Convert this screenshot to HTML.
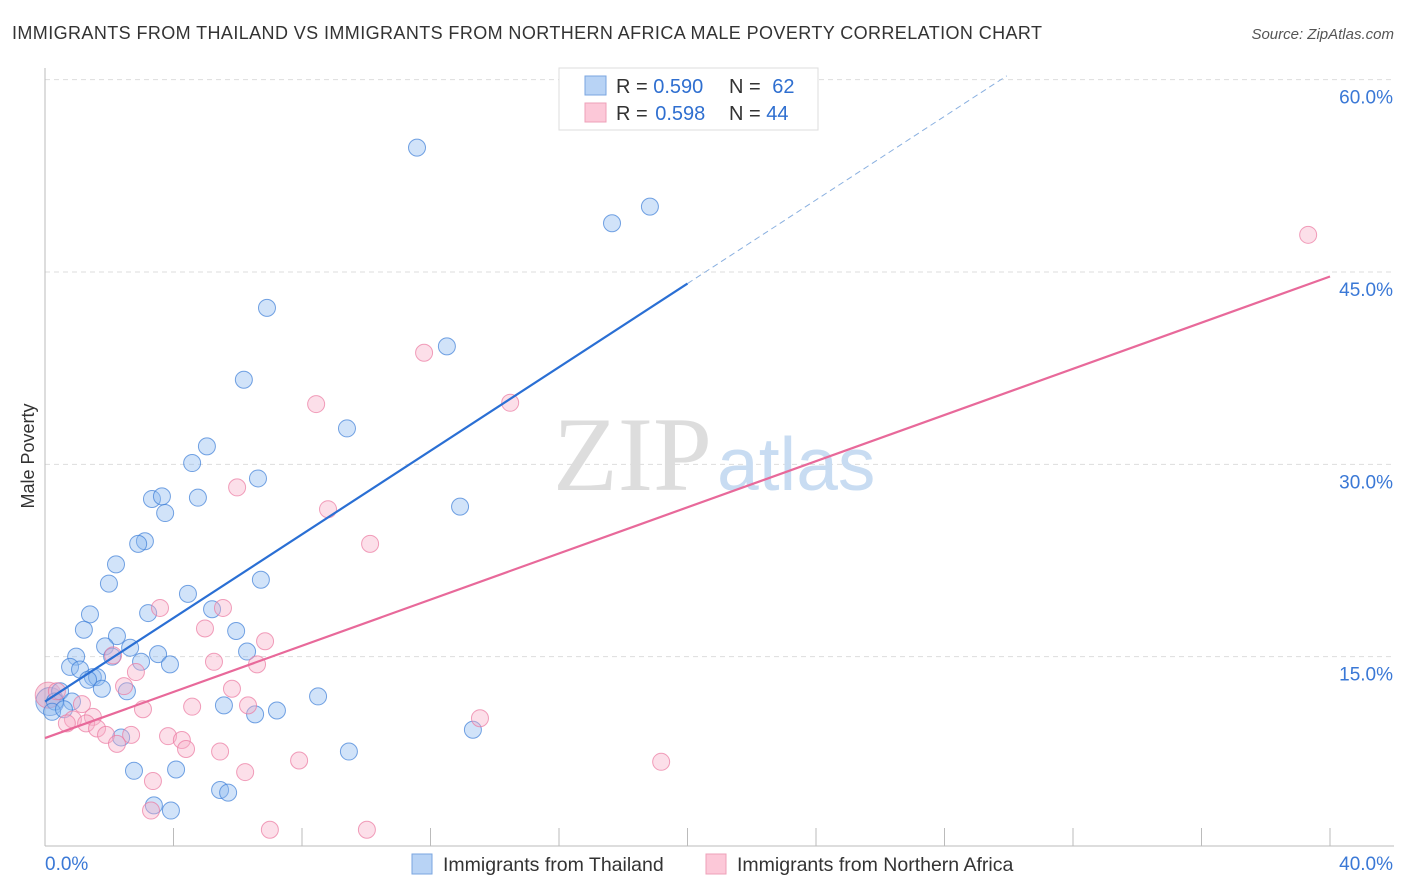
<!DOCTYPE html>
<html><head><meta charset="utf-8"><style>
body{margin:0;background:#fff;font-family:"Liberation Sans",sans-serif;}
svg{display:block}
</style></head><body>
<svg id="chart" width="1406" height="892">
<text x="12" y="39" font-size="18" fill="#333" textLength="1030">IMMIGRANTS FROM THAILAND VS IMMIGRANTS FROM NORTHERN AFRICA MALE POVERTY CORRELATION CHART</text>
<text x="1394" y="39" font-size="15" fill="#555" text-anchor="end" font-style="italic">Source: ZipAtlas.com</text>
<text x="34" y="456" font-size="18" fill="#333" text-anchor="middle" transform="rotate(-90 34 456)">Male Poverty</text>
<g id="grid"></g>
<text x="712" y="490" font-size="106" fill="#ddd" text-anchor="end" font-family="Liberation Serif,serif">ZIP</text>
<text x="717" y="490" font-size="75" fill="#c8dcf2">atlas</text>
<g id="pts"></g>
<g id="lines"></g>
<g>
<rect x="559" y="68" width="259" height="62" fill="#fff" stroke="#ddd"/>
<rect x="585" y="76" width="21" height="19" fill="#b8d3f5" stroke="#7aa6e0"/>
<rect x="585" y="103" width="21" height="19" fill="#fcc8d8" stroke="#eea0b8"/>
<text x="616" y="93" font-size="20" fill="#333">R = <tspan fill="#2f6fd0">0.590</tspan></text>
<text x="729" y="93" font-size="20" fill="#333">N = <tspan fill="#2f6fd0" dx="6">62</tspan></text>
<text x="616" y="120" font-size="20" fill="#333">R = <tspan fill="#2f6fd0" dx="2">0.598</tspan></text>
<text x="729" y="120" font-size="20" fill="#333">N = <tspan fill="#2f6fd0">44</tspan></text>
</g>
<g>
<rect x="412" y="854" width="20" height="20" fill="#b8d3f5" stroke="#7aa6e0"/>
<text x="443" y="871" font-size="19.5" fill="#333">Immigrants from Thailand</text>
<rect x="706" y="854" width="20" height="20" fill="#fcc8d8" stroke="#eea0b8"/>
<text x="737" y="871" font-size="19.5" fill="#333">Immigrants from Northern Africa</text>
</g>
</svg>
<script>
const xTicks=[0,40];
const yTicks=[15,30,45,60];
const blueX=[11.58,17.65,18.83,6.91,12.51,6.19,9.40,5.04,4.58,6.63,3.33,3.64,4.76,3.74,12.92,3.11,2.90,2.21,1.99,6.72,4.45,1.40,3.21,5.20,1.21,5.95,2.24,1.87,2.65,3.52,0.97,2.09,6.29,2.99,3.89,0.78,1.09,1.49,1.62,1.34,1.77,2.55,8.50,0.47,0.84,0.31,0.22,0.59,5.57,7.22,6.54,13.32,2.37,9.46,2.77,4.08,5.45,5.70,3.39,3.92];
const blueY=[54.7,48.8,50.1,42.2,39.2,36.6,32.8,31.4,30.1,28.9,27.3,27.5,27.4,26.2,26.7,24.0,23.8,22.2,20.7,21.0,19.9,18.3,18.4,18.7,17.1,17.0,16.6,15.8,15.7,15.2,15.0,15.0,15.4,14.6,14.4,14.2,14.0,13.4,13.4,13.2,12.5,12.3,11.9,12.3,11.5,11.5,10.7,10.9,11.2,10.8,10.5,9.3,8.7,7.6,6.1,6.2,4.6,4.4,3.4,3.0];
const pinkX=[39.32,11.80,8.44,14.48,5.98,8.81,10.12,3.58,5.54,4.98,6.85,2.12,5.26,6.60,2.83,2.46,5.82,0.37,1.15,6.32,3.05,4.58,13.54,1.49,0.87,0.68,1.28,1.62,1.90,2.68,3.83,4.26,2.24,4.39,5.45,7.91,19.18,6.23,3.36,3.30,7.00,10.02];
const pinkY=[47.9,38.7,34.7,34.8,28.2,26.5,23.8,18.8,18.8,17.2,16.2,15.1,14.6,14.4,13.8,12.7,12.5,12.3,11.3,11.2,10.9,11.1,10.2,10.3,10.1,9.8,9.8,9.4,8.9,8.9,8.8,8.5,8.2,7.8,7.6,6.9,6.8,6.0,5.3,3.0,1.5,1.5];
const blueFit=[11.5,1.63];
const pinkFit=[8.65,0.90];
const NS='http://www.w3.org/2000/svg';
const sx=v=>45+v*(1285/40);
const sy=v=>849-v*(577/45);
function mk(t,a,p){const e=document.createElementNS(NS,t);for(const k in a)e.setAttribute(k,a[k]);p.appendChild(e);return e;}
const grid=document.getElementById('grid');
yTicks.forEach(t=>{
 const l=mk('line',{x1:45,x2:1394,y1:sy(t),y2:sy(t),stroke:'#ddd','stroke-dasharray':'5,4'},grid);
 
 
 const tx=mk('text',{x:1393,y:sy(t)+24,'font-size':19,fill:'#3a78d6','text-anchor':'end'},grid);
 tx.textContent=t.toFixed(1)+'%';
 
 
});
mk('line',{x1:45,x2:45,y1:68,y2:846,stroke:'#bbb'},grid);
mk('line',{x1:45,x2:1394,y1:846,y2:846,stroke:'#bbb'},grid);
for(let i=0;i<=10;i++){mk('line',{x1:sx(i*4),x2:sx(i*4),y1:828,y2:846,stroke:'#bbb'},grid);}
xTicks.forEach((t,i)=>{
 const tx=mk('text',{x:i?1393:45,y:870,'font-size':19,fill:'#3a78d6','text-anchor':i?'end':'start'},grid);
 tx.textContent=t.toFixed(1)+'%';
 
 
});
const pts=document.getElementById('pts');
mk('circle',{cx:sx(0.15),cy:sy(11.5),r:14,fill:'rgba(130,175,235,0.4)',stroke:'rgba(60,120,210,0.6)'},pts);
mk('circle',{cx:sx(0.1),cy:sy(12),r:13,fill:'rgba(240,150,180,0.4)',stroke:'rgba(230,110,150,0.6)'},pts);
blueX.forEach((x,i)=>{
 const c=mk('circle',{cx:sx(x),cy:sy(blueY[i]),r:8.5,fill:'rgba(140,185,240,0.4)',stroke:'rgba(60,125,215,0.7)','stroke-width':1},pts);
 
 
});
pinkX.forEach((x,i)=>{
 const c=mk('circle',{cx:sx(x),cy:sy(pinkY[i]),r:8.5,fill:'rgba(248,175,200,0.4)',stroke:'rgba(235,120,160,0.7)','stroke-width':1},pts);
 
 
});
const L=document.getElementById('lines');
const b1=mk('line',{x1:sx(0),y1:sy(blueFit[0]),x2:sx(20),y2:sy(blueFit[0]+20*blueFit[1]),stroke:'#2a6fd4','stroke-width':2.2},L);


const xe=(60.3-blueFit[0])/blueFit[1];
const b2=mk('line',{x1:sx(20),y1:sy(blueFit[0]+20*blueFit[1]),x2:sx(xe),y2:sy(60.3),stroke:'#8ab0e0','stroke-width':1,'stroke-dasharray':'6,4'},L);


const p1=mk('line',{x1:sx(0),y1:sy(pinkFit[0]),x2:sx(40),y2:sy(pinkFit[0]+40*pinkFit[1]),stroke:'#e8699a','stroke-width':2.2},L);


</script>
</body></html>
